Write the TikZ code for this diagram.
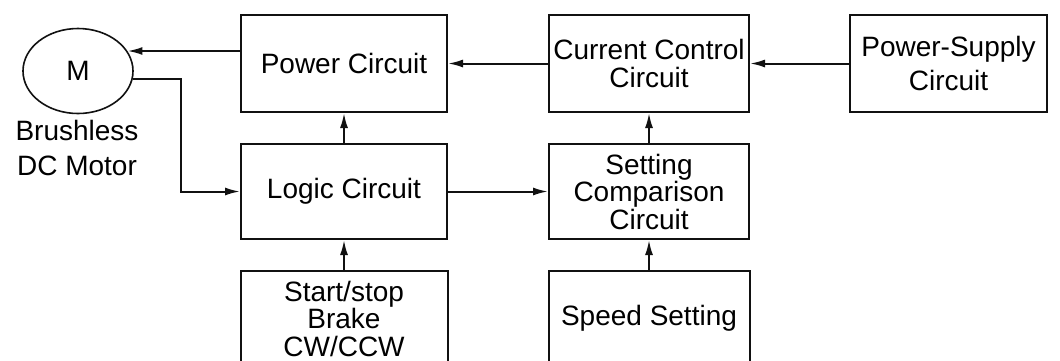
\documentclass[tikz,border=0pt]{standalone}
\usepackage{fontspec}
\setmainfont{Liberation Sans}
\usetikzlibrary{positioning,arrows.meta,shapes.geometric}
\definecolor{ink}{HTML}{111111}

\begin{document}
\begin{tikzpicture}[x=1pt, y=-1pt,
  font=\fontsize{28}{27.5}\selectfont, node distance=30pt and 100pt,
  blk/.style={draw=ink, line width=2pt, align=center, minimum height=95pt, inner sep=2pt},
  motor/.style={draw=ink, ellipse, line width=1.6pt, minimum width=110pt, minimum height=85pt, inner sep=0pt},
  arr/.style={-{Latex[length=15pt, width=8pt]}, draw=ink, line width=2pt}]
\useasboundingbox (0,0) rectangle (1060,360);
\node[motor] (mot) at (78,71) {M};
\node[align=center, font=\fontsize{28}{35}\selectfont] (motlbl) at (77,148) {Brushless\\DC Motor};
\node[blk, minimum width=206pt, minimum height=97pt] (pwr) at (344,63.5) {Power Circuit};
\node[blk, minimum width=200pt, minimum height=97pt, right=of pwr] (cur) {Current Control\\Circuit};
\node[blk, minimum width=197pt, minimum height=97pt, right=99pt of cur] (sup) {Power-Supply\\[7pt]Circuit};
\node[blk, minimum width=206pt, below=of pwr] (logic) {Logic Circuit};
\node[blk, minimum width=200pt, below=of cur] (cmp) {Setting\\Comparison\\Circuit};
\node[blk, minimum width=207pt, below=of logic] (start) {Start/stop\\Brake\\CW/CCW};
\node[blk, minimum width=201pt, below=of cmp] (speed) {Speed Setting};
\draw[arr] (pwr.west |- mot.22) -- (mot.22);
\draw[arr] (mot.-8) -- ++(48,0) |- (logic.west);
\draw[arr] (logic.north) -- (pwr.south);
\draw[arr] (start.north) -- (logic.south);
\draw[arr] (logic.east) -- (cmp.west);
\draw[arr] (cmp.north) -- (cur.south);
\draw[arr] (speed.north) -- (cmp.south);
\draw[arr] (cur.west) -- (pwr.east);
\draw[arr] (sup.west) -- (cur.east);
\end{tikzpicture}
\end{document}
